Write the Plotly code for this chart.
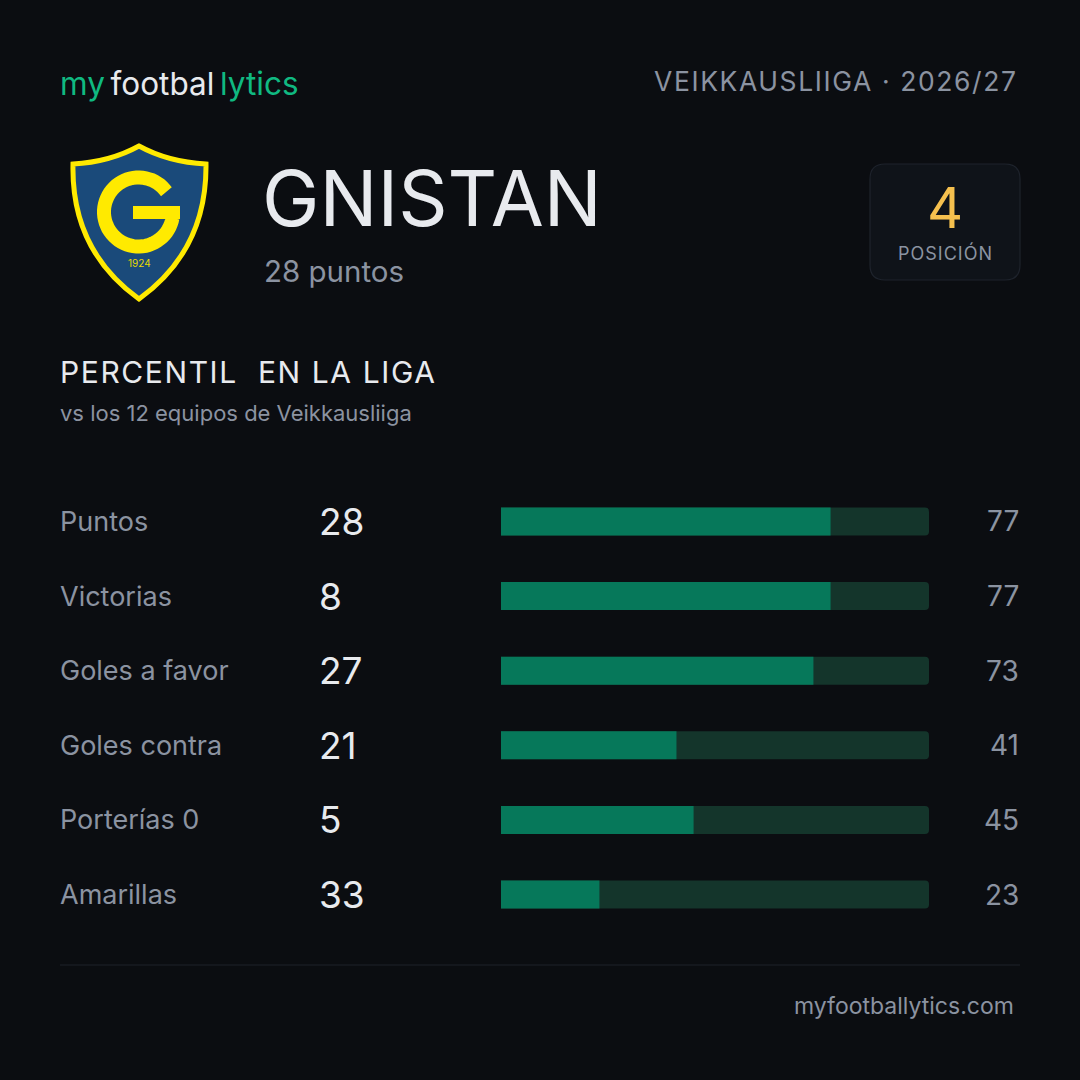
import math
import plotly.graph_objects as go

# data
metrics = ["Puntos", "Victorias", "Goles a favor", "Goles contra", "Porterías 0", "Amarillas"]
values = [28, 8, 27, 21, 5, 33]
percentiles = [77, 77, 73, 41, 45, 23]

team = "GNISTAN"
team_points = "28 puntos"
position = 4
league = "VEIKKAUSLIIGA"
season = "2026/27"

BG = "#0b0d11"
GREY = "#8b93a1"
WHITE = "#e8eaee"
BRAND = "#10b981"
FILL = "#06785a"
TRACK = "#14352b"
YELLOW = "#f5c04e"
FONT = "Inter"

fig = go.Figure()

# invisible trace so the pixel canvas axis exists
fig.add_trace(go.Scatter(x=[0], y=[0], mode="markers", marker=dict(opacity=0),
                         hoverinfo="skip", showlegend=False))

# percentile bars: full track + filled part
fig.add_trace(go.Bar(x=[100] * len(metrics), y=metrics, orientation="h",
                     marker=dict(color=TRACK, cornerradius=4, line=dict(width=0)), width=0.375,
                     xaxis="x2", yaxis="y2", hoverinfo="skip", showlegend=False))
fig.add_trace(go.Bar(x=percentiles, y=metrics, orientation="h",
                     marker=dict(color=FILL, cornerradius=4, line=dict(width=0)), width=0.375,
                     xaxis="x2", yaxis="y2", showlegend=False))

ann = []

def txt(x, y, s, size, color, anchor="left", **kw):
    ann.append(dict(x=x, y=y, xref="x", yref="y", text=s, showarrow=False,
                    xanchor=anchor, yanchor="middle",
                    font=dict(family=FONT, size=size, color=color), **kw))

# header
txt(58, 83, f"<span style='color:{BRAND}'>my</span>&#8201;footbal&#8201;"
             f"<span style='color:{BRAND}'>lytics</span>", 31.5, WHITE)
txt(1020, 81, f"<span style='letter-spacing:1.6px'>{league} · {season}</span>", 26.5, GREY, "right")

txt(260, 198, team, 77, WHITE)
txt(262, 271, team_points, 29.5, GREY)

# position box
txt(945, 208, str(position), 56, YELLOW, "center")
txt(945, 253, "<span style='letter-spacing:1px'>POSICIÓN</span>", 18, GREY, "center")

txt(58, 372, "<span style='letter-spacing:1.6px'>PERCENTIL  EN LA LIGA</span>", 30, WHITE)
txt(58, 413, "vs los 12 equipos de Veikkausliiga", 22, GREY)

txt(1016, 1006, "myfootballytics.com", 23, GREY, "right")

# logo year
txt(139, 263, "1924", 10, "#e8d800", "center")

# row labels
for m, v, p in zip(metrics, values, percentiles):
    ann.append(dict(x=58, y=m, xref="x", yref="y2", text=m, showarrow=False,
                    xanchor="left", yanchor="middle",
                    font=dict(family=FONT, size=27, color=GREY)))
    ann.append(dict(x=317, y=m, xref="x", yref="y2", text=str(v), showarrow=False,
                    xanchor="left", yanchor="middle",
                    font=dict(family=FONT, size=37, color=WHITE)))
    ann.append(dict(x=1021, y=m, xref="x", yref="y2", text=str(p), showarrow=False,
                    xanchor="right", yanchor="middle",
                    font=dict(family=FONT, size=28, color=GREY)))

shapes = []

# position box (rounded rect)
def rrect(x0, y0, x1, y1, r):
    return (f"M{x0+r},{y0} L{x1-r},{y0} Q{x1},{y0} {x1},{y0+r} L{x1},{y1-r} "
            f"Q{x1},{y1} {x1-r},{y1} L{x0+r},{y1} Q{x0},{y1} {x0},{y1-r} "
            f"L{x0},{y0+r} Q{x0},{y0} {x0+r},{y0} Z")

shapes.append(dict(type="path", xref="x", yref="y", path=rrect(870, 164, 1020, 280, 15),
                   fillcolor="#0f1319", line=dict(color="#1e232c", width=1.2), layer="below"))

# divider
shapes.append(dict(type="line", xref="x", yref="y", x0=60, x1=1020, y0=965, y1=965,
                   line=dict(color="#1f232b", width=1.2)))

# club crest: shield
shield = ("M139,146 Q110,162 73,164 Q71,250 139,299 Q207,250 206,164 "
          "Q168,162 139,146 Z")
shapes.append(dict(type="path", xref="x", yref="y", path=shield,
                   fillcolor="#1a4a7a", line=dict(color="#ffea00", width=5)))

# crest letter G: thick arc + bar
cx, cy, r = 138.5, 212, 34.5
pts = []
for i in range(61):
    a = math.radians(36 + (350 - 36) * i / 60)
    pts.append((cx + r * math.cos(a), cy - r * math.sin(a)))
gpath = "M" + " L".join(f"{x:.1f},{y:.1f}" for x, y in pts)
shapes.append(dict(type="path", xref="x", yref="y", path=gpath,
                   line=dict(color="#ffea00", width=14)))
shapes.append(dict(type="rect", xref="x", yref="y", x0=133, x1=180, y0=206, y1=219,
                   fillcolor="#ffea00", line=dict(width=0)))

# row band: 6 rows, ~74.6px apart, centred 521.5 .. 894.5
top_px, bot_px = 484.2, 931.8

fig.update_layout(
    width=1080, height=1080,
    margin=dict(l=0, r=0, t=0, b=0),
    paper_bgcolor=BG, plot_bgcolor="rgba(0,0,0,0)",
    barmode="overlay",
    xaxis=dict(range=[0, 1080], domain=[0, 1], visible=False, fixedrange=True),
    yaxis=dict(range=[1080, 0], domain=[0, 1], visible=False, fixedrange=True),
    xaxis2=dict(range=[0, 100], domain=[501 / 1080, 929 / 1080], anchor="y2",
                visible=False, fixedrange=True),
    yaxis2=dict(domain=[1 - bot_px / 1080, 1 - top_px / 1080], anchor="x2",
                type="category", autorange="reversed", visible=False, fixedrange=True),
    annotations=ann,
    shapes=shapes,
    font=dict(family=FONT),
)

fig.write_html("out.html", config={"displayModeBar": False},
               post_script="document.body.style.margin='0';")
